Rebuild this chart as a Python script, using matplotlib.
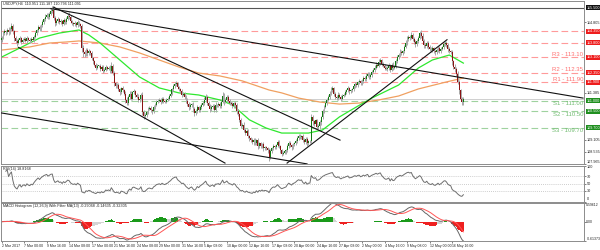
import numpy as np
import pandas as pd
import matplotlib
matplotlib.use('Agg')
import matplotlib.pyplot as plt

plt.rcParams['font.family'] = ['Liberation Sans', 'DejaVu Sans']

# ---------------- data (USDJPY H4, 2 Mar 2017 08:00 .. 18 May 2017 00:00) -------------
first_open = 113.95
close_days = [
    [114.05, 114.25, 114.35, 114.30],                      # 2 Mar
    [114.40, 114.30, 114.45, 114.60, 114.35, 114.05],      # 3 Mar
    [113.90, 113.80, 113.95, 114.05, 113.85, 113.95],      # 6 Mar
    [114.00, 113.90, 114.05, 113.95, 113.90, 114.00],      # 7 Mar
    [113.95, 114.10, 114.25, 114.40, 114.55, 114.45],      # 8 Mar
    [114.65, 114.80, 114.95, 115.05, 115.15, 115.05],      # 9 Mar
    [115.20, 115.35, 115.40, 115.00, 114.75, 114.85],      # 10 Mar
    [114.95, 114.80, 114.85, 114.70, 114.90, 114.80],      # 13 Mar
    [114.95, 115.10, 115.05, 114.85, 114.75, 114.70],      # 14 Mar
    [114.75, 114.65, 114.80, 114.70, 114.60, 113.55],      # 15 Mar
    [113.35, 113.25, 113.45, 113.30, 113.40, 113.30],      # 16 Mar
    [113.05, 112.90, 112.75, 112.60, 112.70, 112.70],      # 17 Mar
    [112.55, 112.65, 112.45, 112.50, 112.65, 112.55],      # 20 Mar
    [112.60, 112.45, 112.70, 112.35, 111.85, 111.70],      # 21 Mar
    [111.75, 111.55, 111.40, 111.60, 111.50, 111.35],      # 22 Mar
    [111.05, 110.90, 111.20, 111.35, 111.10, 111.40],      # 23 Mar
    [111.45, 111.30, 111.20, 111.05, 111.10, 111.30],      # 24 Mar
    [110.45, 110.25, 110.30, 110.45, 110.60, 110.65],      # 27 Mar
    [110.55, 110.50, 110.70, 110.80, 110.95, 111.00],      # 28 Mar
    [111.05, 110.95, 111.10, 111.00, 110.95, 111.05],      # 29 Mar
    [111.10, 111.25, 111.35, 111.55, 111.70, 111.80],      # 30 Mar
    [111.85, 111.65, 111.55, 111.45, 111.30, 111.35],      # 31 Mar
    [111.20, 111.00, 110.85, 110.70, 110.80, 110.85],      # 3 Apr
    [110.60, 110.40, 110.50, 110.70, 110.55, 110.70],      # 4 Apr
    [110.80, 110.90, 111.05, 111.20, 110.90, 110.75],      # 5 Apr
    [110.60, 110.70, 110.75, 110.55, 110.80, 110.80],      # 6 Apr
    [110.85, 110.75, 110.95, 111.25, 110.95, 111.05],      # 7 Apr
    [111.20, 111.00, 110.90, 110.85, 110.75, 110.90],      # 10 Apr
    [110.80, 110.50, 110.35, 110.05, 109.80, 109.85],      # 11 Apr
    [109.60, 109.45, 109.55, 109.30, 109.20, 109.10],      # 12 Apr
    [109.00, 109.10, 108.95, 109.10, 108.80, 108.95],      # 13 Apr
    [108.80, 108.90, 108.70, 108.75, 108.70, 108.60],      # 14 Apr
    [108.30, 108.55, 108.70, 108.80, 108.75, 108.85],      # 17 Apr
    [109.00, 108.80, 108.60, 108.45, 108.50, 108.55],      # 18 Apr
    [108.60, 108.80, 108.95, 108.85, 108.75, 108.90],      # 19 Apr
    [108.95, 109.05, 109.20, 109.30, 109.25, 109.30],      # 20 Apr
    [109.10, 109.00, 109.15, 108.95, 109.05, 109.05],      # 21 Apr
    [110.20, 110.00, 109.90, 110.05, 109.75, 109.80],      # 24 Apr
    [109.95, 110.20, 110.50, 110.70, 110.90, 111.05],      # 25 Apr
    [111.20, 111.35, 111.50, 111.60, 111.35, 111.20],      # 26 Apr
    [111.15, 111.30, 111.20, 111.10, 111.25, 111.30],      # 27 Apr
    [111.40, 111.50, 111.60, 111.45, 111.50, 111.55],      # 28 Apr
    [111.70, 111.80, 111.75, 111.90, 111.95, 111.85],      # 1 May
    [111.95, 112.10, 112.05, 112.20, 112.30, 112.15],      # 2 May
    [112.25, 112.40, 112.50, 112.60, 112.75, 112.70],      # 3 May
    [112.85, 112.95, 112.80, 112.70, 112.60, 112.55],      # 4 May
    [112.60, 112.70, 112.50, 112.75, 112.60, 112.65],      # 5 May
    [112.90, 113.10, 113.20, 113.35, 113.30, 113.40],      # 8 May
    [113.60, 113.80, 114.00, 114.10, 114.05, 114.20],      # 9 May
    [114.00, 113.85, 113.75, 113.90, 114.05, 114.25],      # 10 May
    [114.15, 113.90, 113.70, 113.65, 113.80, 113.60],      # 11 May
    [113.50, 113.45, 113.55, 113.40, 113.35, 113.45],      # 12 May
    [113.55, 113.40, 113.50, 113.60, 113.75, 113.80],      # 15 May
    [113.70, 113.50, 113.40, 113.35, 112.90, 112.65],      # 16 May
    [112.55, 112.30, 111.90, 111.50, 111.10, 110.95],      # 17 May
    [111.091],                                             # 18 May
]
# upper / lower shadow lengths in pips (0.01)
wick_up_days = [
    [8, 10, 12, 6], [10, 15, 12, 18, 10, 8], [8, 6, 10, 7, 5, 9], [6, 8, 7, 5, 6, 8],
    [5, 8, 10, 7, 9, 12], [8, 10, 7, 12, 10, 9], [10, 12, 15, 18, 10, 8], [8, 6, 10, 7, 9, 6],
    [10, 15, 18, 8, 7, 6], [8, 6, 10, 7, 8, 12], [15, 12, 10, 8, 10, 7], [10, 8, 9, 6, 7, 5],
    [8, 10, 7, 6, 9, 5], [10, 12, 15, 8, 10, 8], [12, 10, 9, 8, 10, 6], [10, 12, 8, 10, 12, 8],
    [10, 8, 9, 12, 7, 6], [10, 8, 9, 7, 10, 8], [8, 6, 10, 9, 8, 10], [10, 8, 7, 9, 6, 8],
    [7, 8, 10, 9, 12, 10], [12, 8, 7, 9, 10, 6], [8, 10, 12, 9, 8, 6], [10, 8, 12, 9, 7, 8],
    [10, 8, 12, 15, 10, 8], [8, 10, 7, 9, 12, 6], [8, 10, 9, 15, 12, 8], [10, 8, 7, 9, 8, 6],
    [8, 10, 9, 7, 10, 8], [12, 10, 8, 9, 7, 6], [10, 8, 9, 7, 10, 6], [8, 6, 9, 5, 6, 7],
    [10, 12, 8, 9, 7, 8], [12, 10, 8, 7, 9, 6], [8, 10, 9, 12, 7, 6], [8, 10, 12, 9, 8, 6],
    [10, 8, 9, 12, 7, 5], [15, 10, 8, 9, 7, 8], [10, 8, 12, 9, 10, 8], [10, 12, 15, 10, 8, 7],
    [8, 10, 9, 7, 8, 6], [10, 8, 9, 7, 8, 6], [8, 10, 9, 7, 8, 6], [10, 8, 9, 12, 10, 7],
    [8, 10, 9, 12, 10, 8], [15, 10, 8, 9, 7, 6], [10, 12, 8, 9, 10, 7], [12, 10, 9, 15, 8, 7],
    [10, 12, 15, 10, 9, 12], [8, 10, 9, 7, 10, 12], [15, 10, 8, 9, 10, 7], [10, 8, 9, 7, 6, 8],
    [8, 10, 9, 7, 10, 8], [10, 8, 9, 7, 10, 8], [12, 10, 15, 10, 8, 9], [10],
]
wick_dn_days = [
    [10, 6, 8, 12], [8, 10, 6, 9, 12, 15], [12, 15, 8, 10, 9, 7], [8, 6, 9, 7, 10, 6],
    [7, 9, 6, 8, 7, 10], [9, 7, 10, 8, 6, 9], [8, 7, 10, 12, 15, 10], [8, 10, 7, 9, 6, 8],
    [7, 6, 10, 9, 8, 7], [8, 10, 7, 9, 10, 20], [25, 15, 10, 12, 9, 8], [10, 12, 9, 10, 8, 7],
    [9, 8, 10, 7, 6, 8], [8, 10, 9, 12, 15, 10], [8, 10, 12, 9, 10, 8], [15, 12, 9, 10, 8, 7],
    [8, 10, 9, 12, 10, 7], [12, 15, 10, 8, 9, 7], [10, 12, 8, 9, 7, 8], [8, 10, 7, 9, 8, 6],
    [8, 7, 9, 6, 8, 7], [7, 10, 9, 8, 10, 7], [10, 12, 10, 15, 9, 8], [12, 15, 10, 8, 9, 7],
    [8, 7, 9, 10, 12, 10], [12, 10, 8, 10, 7, 8], [10, 12, 9, 8, 15, 7], [8, 10, 9, 7, 8, 9],
    [10, 12, 9, 10, 12, 8], [12, 10, 9, 10, 12, 8], [10, 12, 9, 10, 12, 8], [10, 8, 12, 9, 8, 10],
    [20, 10, 9, 8, 10, 7], [8, 10, 12, 10, 9, 8], [10, 8, 9, 10, 12, 8], [8, 10, 7, 9, 10, 8],
    [9, 10, 8, 12, 9, 7], [10, 15, 12, 10, 12, 10], [15, 10, 9, 8, 7, 9], [8, 10, 9, 7, 10, 12],
    [12, 10, 9, 10, 8, 7], [8, 9, 7, 10, 8, 7], [9, 8, 10, 7, 8, 9], [8, 7, 10, 8, 7, 10],
    [9, 8, 7, 10, 8, 9], [8, 10, 12, 9, 10, 8], [9, 10, 12, 8, 10, 7], [8, 9, 7, 10, 8, 9],
    [8, 7, 10, 9, 12, 8], [12, 10, 15, 8, 9, 7], [10, 12, 15, 10, 8, 12], [10, 9, 8, 10, 12, 8],
    [9, 10, 8, 7, 9, 8], [10, 12, 9, 10, 15, 12], [15, 12, 10, 15, 12, 15], [16],
]

# moving averages (bar index, price)
green_ma_idx = [0, 13, 27, 41, 55, 62, 70, 84, 98, 112, 126, 140, 155, 164, 176, 188, 199,
                211, 218, 228, 240, 252, 263, 282, 296, 306, 318, 328]
green_ma_val = [113.11, 113.55, 114.03, 114.27, 114.42, 114.18, 113.79, 112.97, 112.15, 111.62,
                111.38, 111.28, 111.04, 110.80, 110.08, 109.68, 109.44, 109.44, 109.44, 109.59,
                110.22, 110.70, 111.13, 111.76, 112.58, 112.97, 113.21, 112.82]
orange_ma_idx = [0, 20, 34, 46, 55, 70, 84, 98, 112, 126, 140, 155, 171, 190, 199, 211, 226,
                 240, 254, 268, 282, 296, 316, 328]
orange_ma_val = [113.45, 113.60, 113.79, 113.84, 113.89, 113.79, 113.60, 113.31, 112.97, 112.63,
                 112.34, 112.20, 111.96, 111.52, 111.38, 111.13, 110.94, 110.84, 110.89, 111.04,
                 111.23, 111.57, 111.91, 112.10]

# trend lines: (bar index, price) pairs
trend_lines = [
    ((35, 115.45), (413, 111.13)),
    ((36.6, 115.53), (240.4, 109.10)),
    ((12, 113.58), (158.7, 107.99)),
    ((0, 110.41), (217, 107.95)),
    ((202.8, 107.99), (316.4, 113.95)),
]

res_levels = [114.35, 113.80, 113.10, 112.35, 111.90]
res_labels = [None, None, 'R3 - 113.10', 'R2 - 112.35', 'R1 - 111.90']
sup_levels = [111.00, 110.50, 109.70]
sup_labels = ['S1 - 111.00', 'S2 - 110.50', 'S3 - 109.70']
high_line = 115.50
last_price = 111.091

date_tick_idx = list(range(0, 321, 16))
date_tick_lbl = ['2 Mar 2017', '7 Mar 00:00', '9 Mar 16:00', '14 Mar 08:00', '17 Mar 00:00',
                 '21 Mar 16:00', '24 Mar 08:00', '29 Mar 00:00', '31 Mar 16:00', '5 Apr 08:00',
                 '10 Apr 00:00', '12 Apr 16:00', '17 Apr 08:00', '20 Apr 00:00', '24 Apr 16:00',
                 '27 Apr 08:00', '2 May 00:00', '4 May 16:00', '9 May 08:00', '12 May 00:00',
                 '16 May 16:00']
price_ticks = [107.965, 108.535, 109.105, 109.675, 110.245, 110.815, 111.385, 111.955,
               112.525, 113.095, 113.665, 114.235, 114.805, 115.375]

# ---------------- build series ----------------
closes = np.array([c for d in close_days for c in d])
wup = np.array([w for d in wick_up_days for w in d]) / 100.0
wdn = np.array([w for d in wick_dn_days for w in d]) / 100.0
n = len(closes)
opens = np.concatenate([[first_open], closes[:-1]])
highs = np.maximum(opens, closes) + wup
lows = np.minimum(opens, closes) - wdn
idx = np.arange(n)

s = pd.Series(closes)
d = s.diff().fillna(0)
ag = d.clip(lower=0).ewm(alpha=1 / 14, adjust=True).mean()
al = (-d).clip(lower=0).ewm(alpha=1 / 14, adjust=True).mean()
rsi = 100 - 100 / (1 + ag / al.replace(0, np.nan))
macd = s.ewm(span=12, adjust=True).mean() - s.ewm(span=26, adjust=True).mean()
signal = macd.rolling(9, min_periods=1).mean()
hist = macd - signal
hist_ma = hist.rolling(13, min_periods=1).mean()

# ---------------- figure ----------------
W, H = 600, 250
fig = plt.figure(figsize=(6, 2.5), dpi=100)
fig.patch.set_facecolor('white')
L, R = 1, 584
FS = 2.7


def axes_px(top, bottom):
    return fig.add_axes([L / W, 1 - bottom / H, (R - L) / W, (bottom - top) / H])


ax = axes_px(1, 164)
ax_rsi = axes_px(165.5, 201.5)
ax_macd = axes_px(203, 241)
xlim = (-0.4, 413.7)
spine_col = '#8c8c8c'
for a in (ax, ax_rsi, ax_macd):
    a.set_xlim(*xlim)
    a.set_facecolor('white')
    for sp in a.spines.values():
        sp.set_color(spine_col)
        sp.set_linewidth(0.7)
    a.yaxis.tick_right()
    a.tick_params(axis='y', labelsize=FS, length=1.2, width=0.4, pad=0.8, colors='#222222')
    a.tick_params(axis='x', length=0)
    a.set_xticks([])

# --- main panel
ax.set_ylim(107.945, 115.82)
for lv in res_levels:
    ax.axhline(lv, color='#ff9a9a', lw=0.8, dashes=(6, 3), zorder=1)
for lv in sup_levels:
    ax.axhline(lv, color='#9fd29f', lw=0.8, dashes=(6, 3), zorder=1)
ax.axhline(last_price, color='#cfcfcf', lw=0.7, zorder=1)
ax.axhline(high_line, color='#555555', lw=0.8, zorder=1)

ax.plot(orange_ma_idx, orange_ma_val, color='#f0a060', lw=0.9, zorder=2)
ax.plot(green_ma_idx, green_ma_val, color='#2ee82e', lw=0.9, zorder=2)

ax.vlines(idx, lows, highs, color='#a8a8a8', lw=0.7, zorder=3)
up = closes >= opens
body_h = np.maximum(np.abs(closes - opens), 0.012)
body_b = np.minimum(opens, closes)
ax.bar(idx[up], body_h[up], bottom=body_b[up], width=0.65, color='#127a12', lw=0, zorder=4)
ax.bar(idx[~up], body_h[~up], bottom=body_b[~up], width=0.65, color='#8a1414', lw=0, zorder=4)

for (x0, y0), (x1, y1) in trend_lines:
    ax.plot([x0, x1], [y0, y1], color='#111111', lw=0.8, zorder=5)

xr = xlim[1] - 0.6
for lv, lb in zip(res_levels, res_labels):
    if lb:
        ax.text(xr, lv + 0.03, lb, color='#ff7070', fontsize=4.3, ha='right', va='bottom', zorder=6)
for lv, lb in zip(sup_levels, sup_labels):
    ax.text(xr, lv - 0.03, lb, color='#70bb70', fontsize=4.3, ha='right', va='top', zorder=6)

boxes = [(lv, '#ee1c1c') for lv in res_levels] + [(lv, '#1f8f1f') for lv in sup_levels] + \
        [(high_line, '#111111')]
free_ticks = [t for t in price_ticks if all(abs(t - b) > 0.3 for b, _ in boxes)]
ax.set_yticks(free_ticks)
ax.set_yticklabels([f'{v:.3f}' for v in free_ticks])
ax.get_yticklabels()[0].set_va('bottom')


def box(a, y, txt, fc):
    a.text(1.004, y, txt, transform=a.get_yaxis_transform(), fontsize=FS, color='white',
           va='center', ha='left', clip_on=False, zorder=10,
           bbox=dict(facecolor=fc, edgecolor='none', pad=0.4))


for lv, fc in boxes:
    box(ax, lv, f'{lv:.3f}', fc)

ax.text(0.004, 0.995, 'USDJPY,H4  110.951 111.187 110.796 111.091', transform=ax.transAxes,
        fontsize=FS, va='top', ha='left', color='#222222')

# --- RSI panel
ax_rsi.set_ylim(0, 100)
for lv in (30, 50, 70):
    ax_rsi.axhline(lv, color='#bdbdbd', lw=0.6, ls=(0, (1, 1.5)))
ax_rsi.plot(idx[1:], rsi.values[1:], color='#6e6e6e', lw=0.7)
ax_rsi.set_yticks([0, 30, 50, 70, 100])
ax_rsi.set_yticklabels(['0', '30', '50', '70', '100'])
rl = ax_rsi.get_yticklabels()
rl[0].set_va('bottom')
rl[-1].set_va('top')
ax_rsi.text(0.004, 0.97, f'RSI(14) {rsi.values[-1]:.4f}', transform=ax_rsi.transAxes,
            fontsize=FS, va='top', ha='left', color='#222222')

# --- MACD panel
hv = hist.values
hm = hist_ma.values
col = np.where((hv > 0) & (hv > hm), '#1a9a1a', np.where((hv < 0) & (hv < hm), '#ee2020', '#d4d4d4'))
ax_macd.bar(idx, hv, width=1.0, color=col, lw=0)
ax_macd.plot(idx, macd.values, color='#666666', lw=0.7)
ax_macd.plot(idx, signal.values, color='#ff5555', lw=0.7)
lo = min(macd.min(), signal.min(), hist.min())
hi = max(macd.max(), signal.max(), hist.max())
ax_macd.set_ylim(lo, hi)
ax_macd.set_yticks([hi, 0, lo])
ax_macd.set_yticklabels([f'{hi:.5f}', '0.00', f'{lo:.5f}'])
ax_macd.tick_params(axis='y', labelsize=2.5, pad=0.5)
for lbl, va in zip(ax_macd.get_yticklabels(), ['top', 'center', 'bottom']):
    lbl.set_va(va)
ax_macd.text(0.004, 0.97,
             f'MACD Histogram (12,26,9) With Filter MA(13) {hv[-1]:.5f} {hm[-1]:.5f} {signal.values[-1]:.5f}',
             transform=ax_macd.transAxes, fontsize=FS, va='top', ha='left', color='#222222')

ax_macd.set_xticks(date_tick_idx)
ax_macd.set_xticklabels(date_tick_lbl)
ax_macd.tick_params(axis='x', labelsize=2.5, length=1.2, width=0.4, pad=0.8, colors='#222222')
for lbl in ax_macd.get_xticklabels():
    lbl.set_ha('left')

fig.savefig('out.png', dpi=100, facecolor='white')
